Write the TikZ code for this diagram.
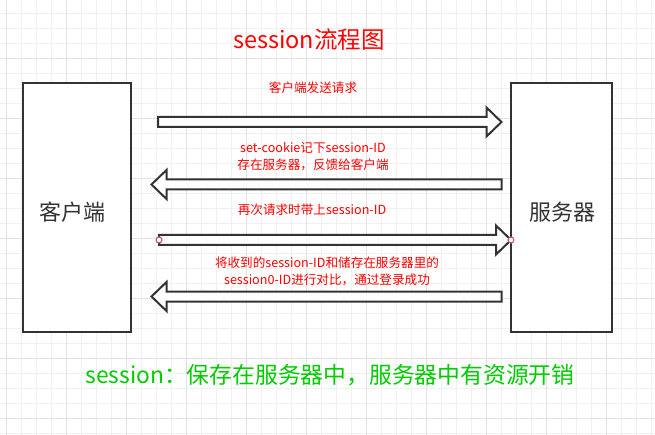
\documentclass[tikz,border=0pt]{standalone}
\usepackage{fontspec}
\setmainfont{Noto Sans CJK SC}
\usetikzlibrary{positioning,calc}
\definecolor{linegray}{HTML}{333333}
\definecolor{labelred}{HTML}{FF0000}
\definecolor{notegreen}{HTML}{00CC00}
\definecolor{gridminor}{HTML}{F0F0F0}
\definecolor{gridmajor}{HTML}{E2E2E2}
\definecolor{pointred}{HTML}{B85450}
% hollow block arrow between two named points (horizontal)
\newcommand{\blockarrow}[2]{%
  \draw[blockline] let \p1=(#1), \p2=(#2), \n1={sign(\x2-\x1)*15} in
    (\x1,\y1+5pt) -- ({\x2-\n1},\y1+5pt) -- ({\x2-\n1},\y1+14.5pt) -- (\x2,\y1)
    -- ({\x2-\n1},\y1-14.5pt) -- ({\x2-\n1},\y1-5pt) -- (\x1,\y1-5pt) -- cycle;}

\begin{document}
\begin{tikzpicture}[
  x=1pt, y=-1pt,
  party/.style={draw=linegray, line width=2pt, fill=white, inner sep=0pt,
    minimum height=249pt},
  partylabel/.style={text=linegray, font=\fontsize{22}{26}\selectfont},
  blockline/.style={draw=linegray, line width=2pt, fill=white, line join=miter},
  msg/.style={text=labelred, align=center, font=\fontsize{12.6}{16.7}\selectfont},
  title/.style={text=labelred, font=\fontsize{23.5}{28}\selectfont},
  note/.style={text=notegreen, font=\fontsize{22.8}{27}\selectfont},
  endpoint/.style={circle, draw=pointred, fill=white, line width=1pt,
    minimum size=6pt, inner sep=0pt},
]
  \useasboundingbox (0,0) rectangle (655,435);
  \fill[white] (0,0) rectangle (655,435);
  % grid
  \foreach \gx in {6.7,21.7,...,655} \draw[gridminor, line width=0.8pt] (\gx,0) -- (\gx,435);
  \foreach \gy in {13.3,28.3,...,435} \draw[gridminor, line width=0.8pt] (0,\gy) -- (655,\gy);
  \foreach \gx in {6.7,66.7,...,655} \draw[gridmajor, line width=0.8pt] (\gx,0) -- (\gx,435);
  \foreach \gy in {58.3,118.3,...,435} \draw[gridmajor, line width=0.8pt] (0,\gy) -- (655,\gy);

  \node[title] (title) at (309,40) {session流程图};

  \node[party, minimum width=107.4pt] (client) at (77,207.5) {};
  \node[partylabel] (clientlabel) at (72.5,212) {客户端};
  \node[party, minimum width=101pt] (server) at (561.5,207.5) {};
  \node[partylabel] (serverlabel) at (562,212) {服务器};

  % arrow end points
  \coordinate (send-s) at (158,122);
  \coordinate (send-e) at (501.5,122);
  \coordinate (back-s) at (501.5,184.5);
  \coordinate (back-e) at (151.5,184.5);
  \coordinate (again-s) at (159,240);
  \coordinate (again-e) at (511,240);
  \coordinate (check-s) at (501.5,296.5);
  \coordinate (check-e) at (151.5,296.5);

  \blockarrow{send-s}{send-e}
  \blockarrow{back-s}{back-e}
  \blockarrow{again-s}{again-e}
  \blockarrow{check-s}{check-e}
  \node[endpoint] (againstart) at (again-s) {};
  \node[endpoint] (againend) at (again-e) {};

  \node[msg] (sendmsg) at (313,88) {客户端发送请求};
  \node[msg] (backmsg) at (313,156.7) {set-cookie记下session-ID\\存在服务器，反馈给客户端};
  \node[msg] (againmsg) at (312,210) {再次请求时带上session-ID};
  \node[msg] (checkmsg) at (327,271.7) {将收到的session-ID和储存在服务器里的\\session0-ID进行对比，通过登录成功};

  \node[note] (summary) at (330,375) {session：保存在服务器中，服务器中有资源开销};
\end{tikzpicture}
\end{document}
